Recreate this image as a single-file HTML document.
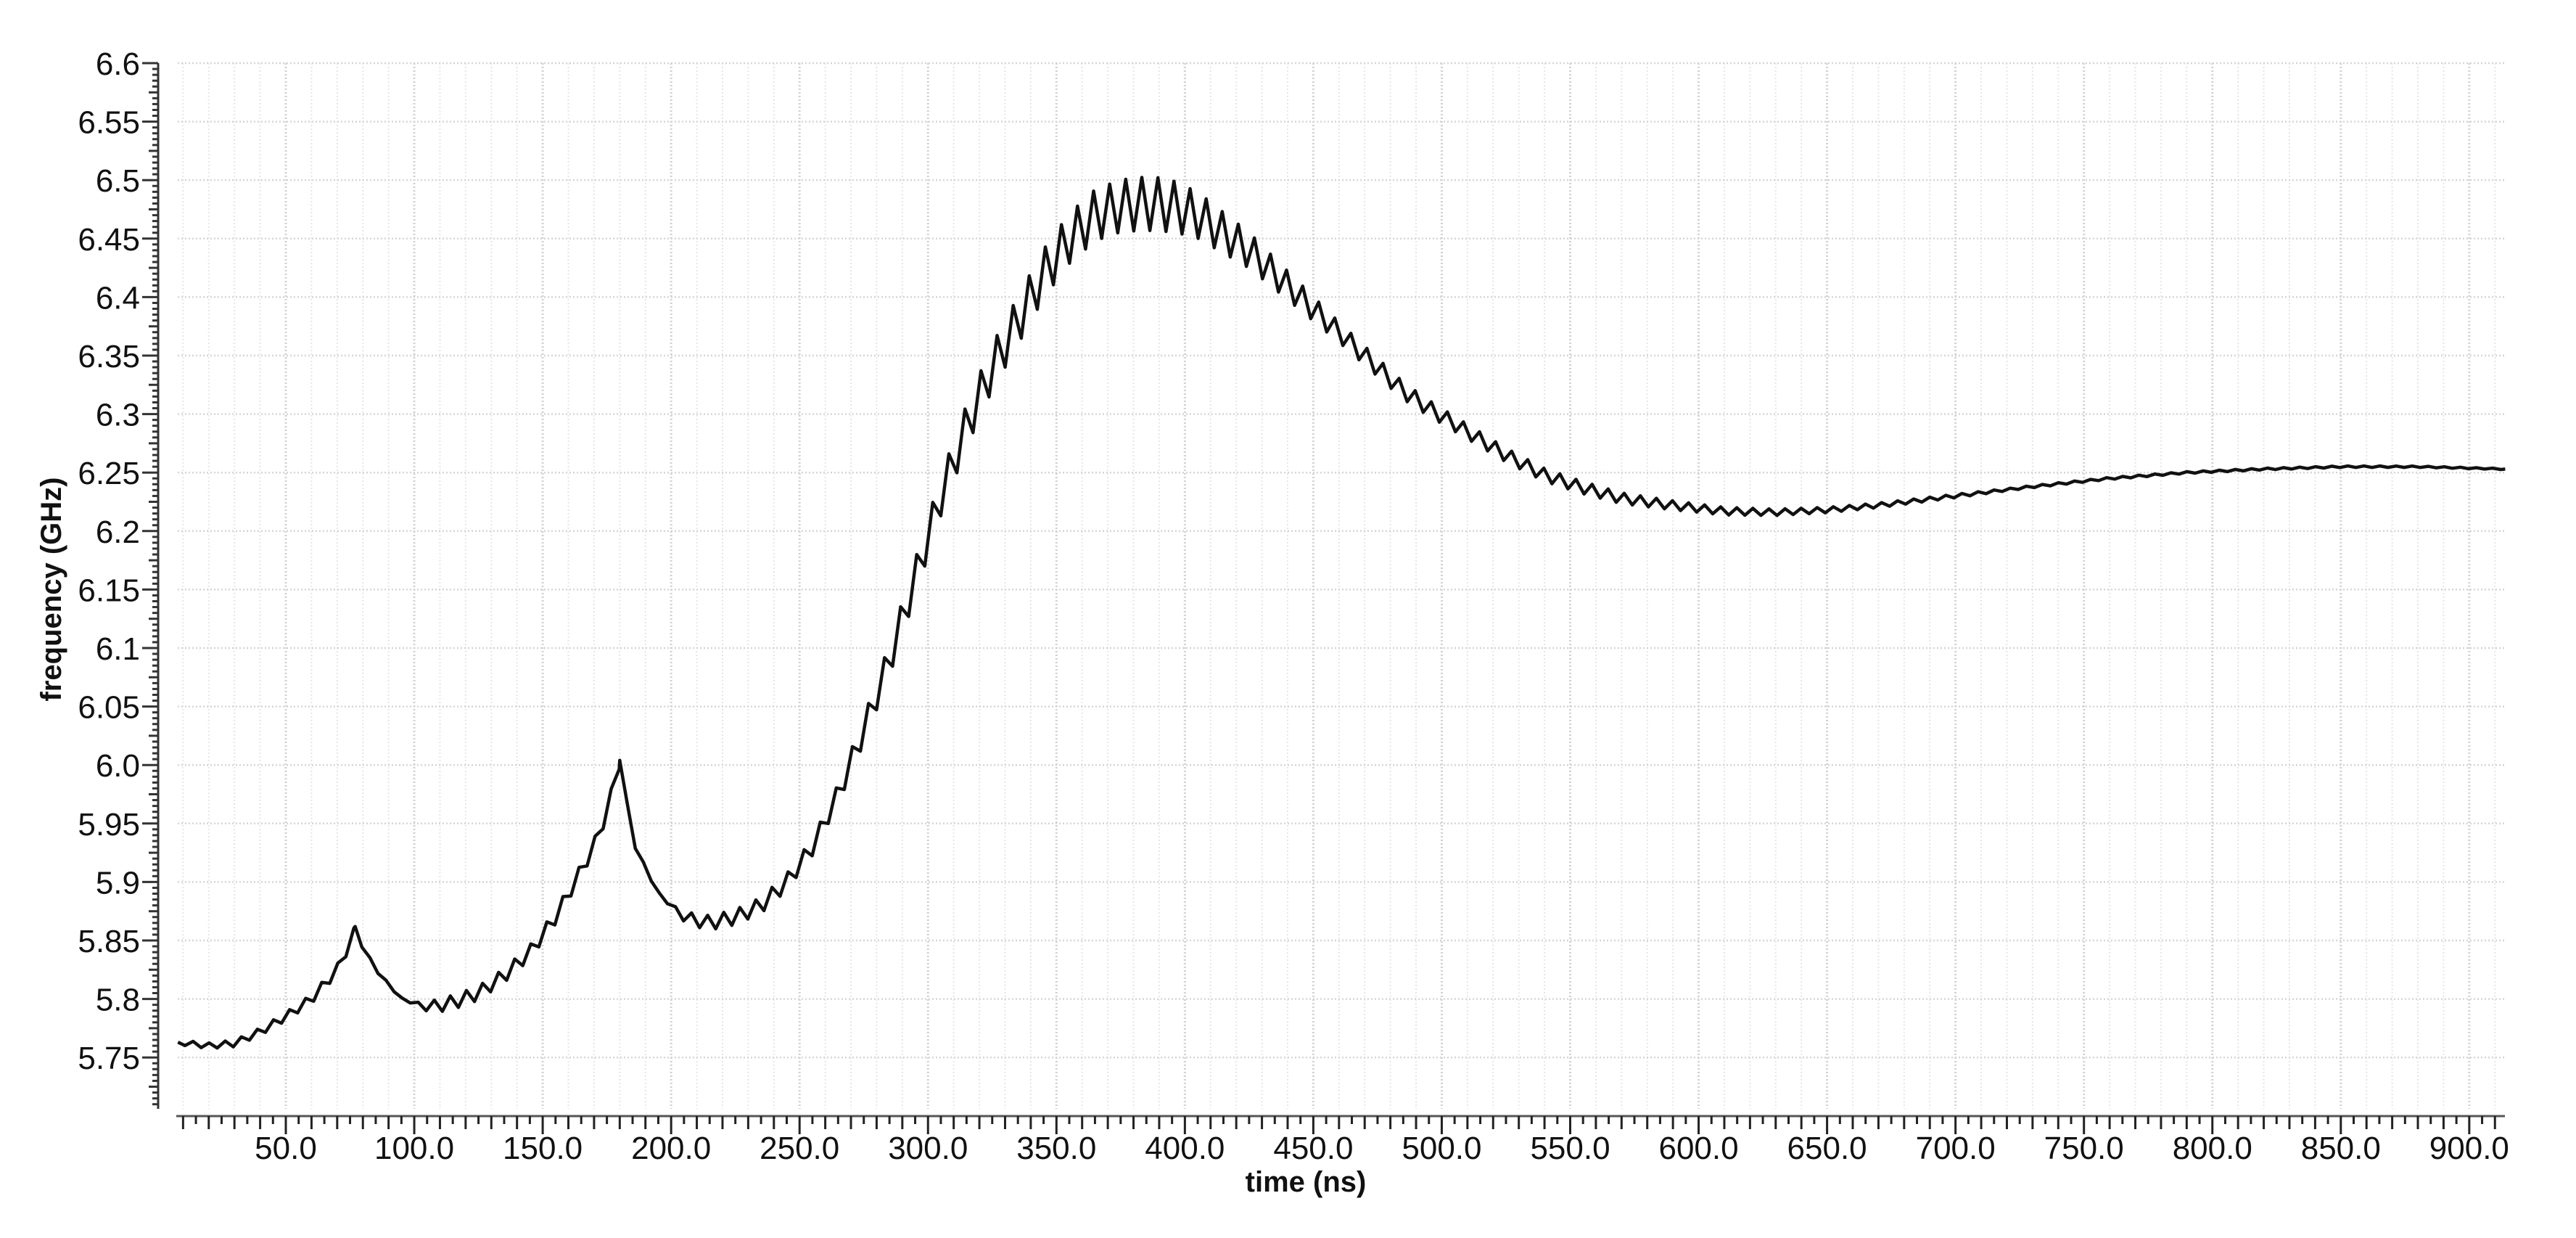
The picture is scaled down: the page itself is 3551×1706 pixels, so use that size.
<!DOCTYPE html>
<html><head><meta charset="utf-8">
<style>
html,body{margin:0;padding:0;background:#fff;}
svg{display:block;}
text{font-family:"Liberation Sans",sans-serif;fill:#111;}
</style></head>
<body>
<svg id="chart" width="3551" height="1706" viewBox="0 0 3551 1706" xmlns="http://www.w3.org/2000/svg">
<rect width="3551" height="1706" fill="#fff"/>
<g id="grid"></g>
<g id="axes"></g>
<path id="curve" fill="none" stroke="#111" stroke-width="4.5" stroke-linejoin="round"/>
<text x="1800" y="1642" font-size="40" font-weight="bold" text-anchor="middle">time (ns)</text>
<text x="0" y="0" font-size="40" font-weight="bold" text-anchor="middle" transform="translate(84,812) rotate(-90)">frequency (GHz)</text>
</svg>
<script>
const times =   [8,20,30,40,50,60,70,77,85,95,105,115,125,135,145,155,165,172,180,186,195,205,215,225,235,245,255,265,275,285,295,305,315,325,335,345,355,365,375,385,395,405,415,425,435,445,455,465,475,485,495,510,525,540,555,570,590,610,630,650,670,700,730,760,790,820,850,880,914];
const centers = [5.763,5.76,5.762,5.772,5.785,5.80,5.825,5.858,5.825,5.80,5.793,5.797,5.805,5.82,5.84,5.87,5.91,5.94,6.0,5.93,5.89,5.87,5.865,5.87,5.88,5.90,5.93,5.975,6.03,6.09,6.16,6.23,6.29,6.34,6.38,6.42,6.45,6.47,6.478,6.48,6.478,6.47,6.455,6.44,6.42,6.40,6.38,6.36,6.34,6.32,6.305,6.285,6.265,6.248,6.237,6.228,6.222,6.217,6.216,6.218,6.222,6.23,6.238,6.245,6.25,6.253,6.255,6.255,6.253];
const ampTimes = [8,60,77,82,100,110,175,181,200,210,260,290,330,390,430,460,500,560,600,640,700,720,914];
const amps =     [0.004,0.008,0.01,0.002,0.002,0.012,0.012,0.002,0.003,0.012,0.015,0.03,0.04,0.046,0.028,0.017,0.013,0.01,0.007,0.005,0.003,0.002,0.001];
const yTicks = ["6.6","6.55","6.5","6.45","6.4","6.35","6.3","6.25","6.2","6.15","6.1","6.05","6.0","5.95","5.9","5.85","5.8","5.75"];
const xTicks = ["50.0","100.0","150.0","200.0","250.0","300.0","350.0","400.0","450.0","500.0","550.0","600.0","650.0","700.0","750.0","800.0","850.0","900.0"];
const period = 6.26, phase = 389.5;

const X = t => 394 + (t - 50) * 3.541;
const Y = v => 87 + (6.6 - v) * 1612;
const NS = "http://www.w3.org/2000/svg";
function lerp(xs, ys, t){
  if (t <= xs[0]) return ys[0];
  for (let i = 1; i < xs.length; i++) if (t <= xs[i]) { const f = (t - xs[i-1])/(xs[i]-xs[i-1]); return ys[i-1] + f*(ys[i]-ys[i-1]); }
  return ys[ys.length-1];
}
const grid = document.getElementById('grid');
const axes = document.getElementById('axes');
function line(g, x1,y1,x2,y2,stroke,w,dash){
  const l = document.createElementNS(NS,'line');
  l.setAttribute('x1',x1);l.setAttribute('y1',y1);l.setAttribute('x2',x2);l.setAttribute('y2',y2);
  l.setAttribute('stroke',stroke);l.setAttribute('stroke-width',w);
  if(dash) l.setAttribute('stroke-dasharray',dash);
  g.appendChild(l); return l;
}
for (let t = 10; t <= 910; t += 10) {
  const major = t % 50 === 0;
  const l = line(grid, X(t), 87, X(t), 1528, major ? '#d2d2d2' : '#e6e6e6', major ? 3 : 2, '2 3');
  
  
}
yTicks.forEach(s => {
  const v = parseFloat(s), y = Y(v);
  const l = line(grid, 245, y, 3453, y, '#d6d6d6', 2.5, '2 3');
  
  
  const t = document.createElementNS(NS,'text');
  t.setAttribute('x', 193); t.setAttribute('y', y + 16);
  t.setAttribute('font-size', 44); t.setAttribute('text-anchor','end');
  t.textContent = s;
  
  
  axes.appendChild(t);
});
line(axes, 218, 87, 218, 1528, '#333', 3);
for (let i = 0; i <= 180; i++) {
  const y = 87 + i * 8.06;
  if (y > 1528) break;
  const major = i % 10 === 0, mid = i % 5 === 0;
  line(axes, major ? 196 : (mid ? 205 : 210), y, 218, y, '#333', 3);
}
line(axes, 243, 1538, 3453, 1538, '#555', 3);
for (let t = 10; t <= 910; t += 5) {
  const major = t % 50 === 0, mid = t % 10 === 0;
  line(axes, X(t), 1538, X(t), major ? 1563 : (mid ? 1556 : 1549), '#222', 3);
}
xTicks.forEach(s => {
  const v = parseFloat(s);
  const t = document.createElementNS(NS,'text');
  t.setAttribute('x', X(v)); t.setAttribute('y', 1597);
  t.setAttribute('font-size', 44); t.setAttribute('text-anchor','middle');
  t.textContent = s;
  
  
  axes.appendChild(t);
});
let d = '';
let k0 = Math.ceil((times[0] - phase) / (period/2));
let pts = [[times[0], lerp(times, centers, times[0])]];
for (let k = k0; ; k++) {
  const t = phase + k * period/2;
  if (t >= times[times.length-1]) break;
  const sgn = (k % 2 === 0) ? 1 : -1;
  pts.push([t, lerp(times, centers, t) + sgn * lerp(ampTimes, amps, t)/2]);
}
[77,180].forEach(tp => { const i = times.indexOf(tp); pts.push([tp, centers[i] + 0.004]); });
pts.push([times[times.length-1], centers[centers.length-1]]);
pts.sort((a,b)=>a[0]-b[0]);
pts.forEach((p,i) => { d += (i ? 'L' : 'M') + X(p[0]).toFixed(1) + ',' + Y(p[1]).toFixed(1); });
document.getElementById('curve').setAttribute('d', d);
</script>
</body></html>
